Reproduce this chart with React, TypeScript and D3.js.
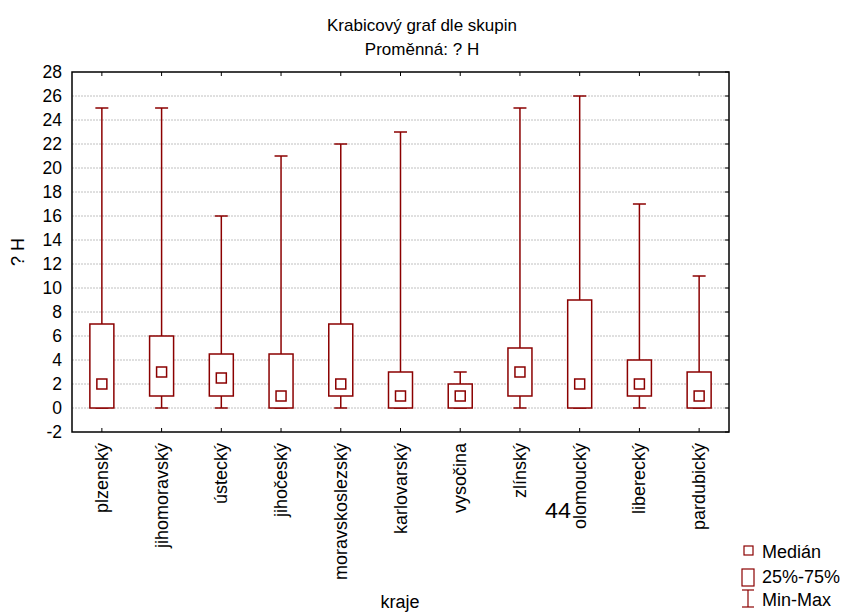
import React from "react";
import * as d3 from "d3";

const regions = [
  "plzenský",
  "jihomoravský",
  "ústecký",
  "jihočeský",
  "moravskoslezský",
  "karlovarský",
  "vysočina",
  "zlínský",
  "olomoucký",
  "liberecký",
  "pardubický",
];
const minValues = [0, 0, 0, 0, 0, 0, 0, 0, 0, 0, 0];
const q1Values = [0, 1, 1, 0, 1, 0, 0, 1, 0, 1, 0];
const medianValues = [2, 3, 2.5, 1, 2, 1, 1, 3, 2, 2, 1];
const q3Values = [7, 6, 4.5, 4.5, 7, 3, 2, 5, 9, 4, 3];
const maxValues = [25, 25, 16, 21, 22, 23, 3, 25, 26, 17, 11];
const yTicks = d3.range(-2, 29, 2);

const W = 846;
const H = 614;
const left = 72;
const right = 729;
const top = 72;
const bottom = 432;
const RED = "#8b0000";
const FONT = "'Liberation Sans', Arial, sans-serif";

export default function App() {
  const x = d3.scaleBand<string>().domain(regions).range([left, right]);
  const y = d3.scaleLinear().domain([-2, 28]).range([bottom, top]);
  const cx = (c: string) => (x(c) as number) + x.bandwidth() / 2;
  const boxW = 24;
  const capW = 13;
  const medW = 10;

  return (
    <svg
      width={W}
      height={H}
      style={{ position: "absolute", left: 0, top: 0, background: "#fff" }}
      fontFamily={FONT}
    >
      <rect x={0} y={0} width={W} height={H} fill="#fff" />
      <text x={422} y={31} fontSize={17} textAnchor="middle">
        Krabicový graf dle skupin
      </text>
      <text x={422} y={55} fontSize={17} textAnchor="middle">
        Proměnná: ? H
      </text>

      {/* horizontal grid */}
      {yTicks
        .filter((t) => t > -2 && t < 28)
        .map((t) => (
          <line
            key={"g" + t}
            x1={left}
            x2={right}
            y1={y(t)}
            y2={y(t)}
            stroke="#c0c0c0"
            strokeWidth={1}
            strokeDasharray="2,1"
          />
        ))}

      {/* y tick labels and inner ticks */}
      {yTicks.map((t) => (
        <g key={"yt" + t}>
          <text
            x={62}
            y={y(t) + 6}
            fontSize={17.5}
            textAnchor="end"
            fill="#000"
          >
            {t}
          </text>
          <line x1={right - 4} x2={right} y1={y(t)} y2={y(t)} stroke="#000" />
        </g>
      ))}

      {/* category ticks top and bottom */}
      {regions.map((c) => (
        <g key={"xt" + c}>
          <line x1={cx(c)} x2={cx(c)} y1={top} y2={top + 4} stroke="#000" />
          <line x1={cx(c)} x2={cx(c)} y1={bottom - 4} y2={bottom} stroke="#000" />
        </g>
      ))}

      {/* boxes */}
      {regions.map((c, i) => {
        const xc = cx(c);
        return (
          <g key={"b" + c} stroke={RED} strokeWidth={1.5} fill="none">
            <line x1={xc} x2={xc} y1={y(maxValues[i])} y2={y(q3Values[i])} />
            <line x1={xc} x2={xc} y1={y(q1Values[i])} y2={y(minValues[i])} />
            <line
              x1={xc - capW / 2}
              x2={xc + capW / 2}
              y1={y(maxValues[i])}
              y2={y(maxValues[i])}
            />
            <line
              x1={xc - capW / 2}
              x2={xc + capW / 2}
              y1={y(minValues[i])}
              y2={y(minValues[i])}
            />
            <rect
              x={xc - boxW / 2}
              y={y(q3Values[i])}
              width={boxW}
              height={y(q1Values[i]) - y(q3Values[i])}
              fill="#fff"
            />
            <rect
              x={xc - medW / 2}
              y={y(medianValues[i]) - medW / 2}
              width={medW}
              height={medW}
              fill="#fff"
            />
          </g>
        );
      })}

      {/* frame */}
      <rect
        x={left}
        y={top}
        width={right - left}
        height={bottom - top}
        fill="none"
        stroke="#000"
        strokeWidth={1.5}
      />

      {/* category labels */}
      {regions.map((c) => (
        <text
          key={"l" + c}
          transform={`translate(${cx(c) + 6},${443}) rotate(-90)`}
          fontSize={18}
          textAnchor="end"
        >
          {c}
        </text>
      ))}

      <text
        transform={`translate(${24},${252}) rotate(-90)`}
        fontSize={18}
        textAnchor="middle"
      >
        ? H
      </text>
      <text x={400} y={608} fontSize={18} textAnchor="middle">
        kraje
      </text>

      <text
        x={545}
        y={518}
        fontSize={22}
        textLength={26}
        lengthAdjust="spacingAndGlyphs"
      >
        44
      </text>

      {/* legend */}
      <g stroke={RED} strokeWidth={1.2} fill="none">
        <rect x={744} y={546} width={9} height={9} fill="#fff" />
        <rect x={742} y={569} width={12} height={17} fill="#fff" />
        <line x1={748} x2={748} y1={590} y2={607} />
        <line x1={742} x2={754} y1={590} y2={590} />
        <line x1={742} x2={754} y1={607} y2={607} />
      </g>
      <text x={762} y={558} fontSize={18}>
        Medián
      </text>
      <text x={762} y={583} fontSize={18}>
        25%-75%
      </text>
      <text x={762} y={606} fontSize={18}>
        Min-Max
      </text>
    </svg>
  );
}
